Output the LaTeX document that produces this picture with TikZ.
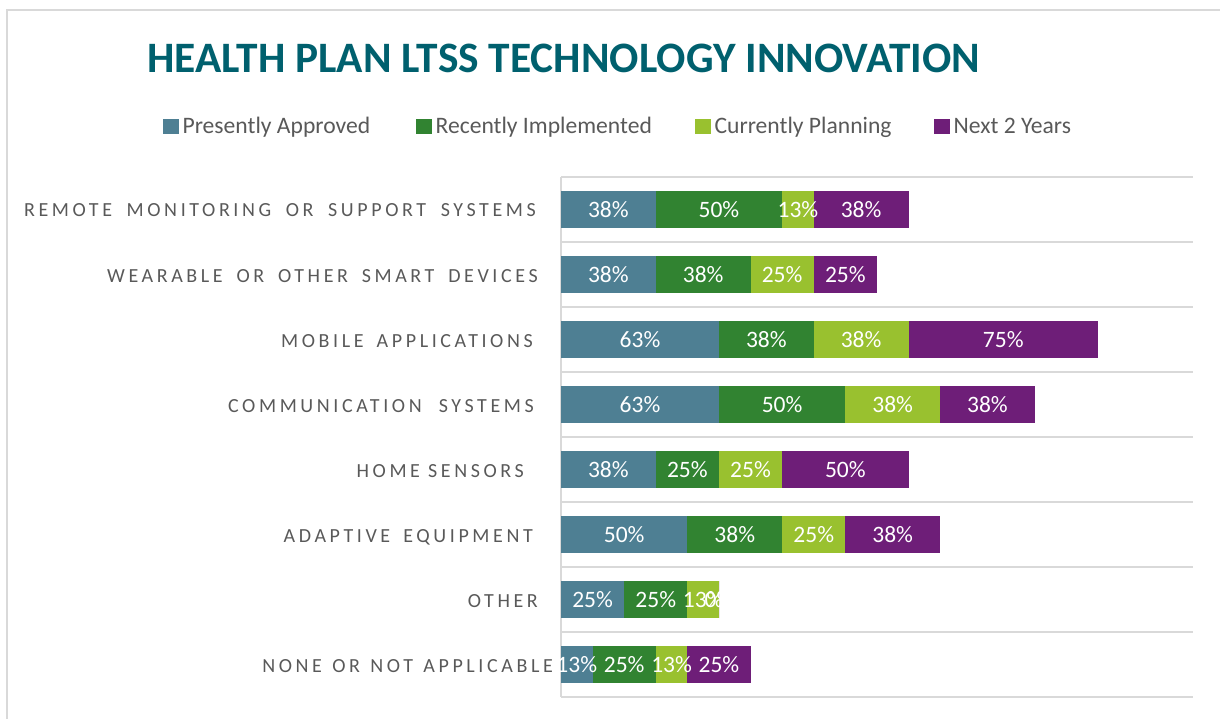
\documentclass[tikz,border=0pt]{standalone}
\usepackage{fontspec}
\setmainfont{Carlito}
\newfontfamily\catfont{Carlito}[LetterSpace = 18]
\usetikzlibrary{positioning}

\definecolor{bar1}{HTML}{4E7F93}
\definecolor{bar2}{HTML}{318331}
\definecolor{bar3}{HTML}{99C12F}
\definecolor{bar4}{HTML}{6E1E78}
\definecolor{titleteal}{HTML}{00606E}
\definecolor{labelgray}{HTML}{595959}
\definecolor{gridgray}{HTML}{D9D9D9}

\def\barrows{1/3/4/1/3, 2/3/3/2/2, 3/5/3/3/6, 4/5/4/3/3, 5/3/2/2/4, 6/4/3/2/3, 7/2/2/1/0, 8/1/2/1/2}

\begin{document}
\begin{tikzpicture}[x = 1pt, y = -1pt,
	seg/.style = {minimum height = 37pt, inner sep = 0, outer sep = 0},
	pct/.style = {text = white, font = \fontsize{23.5}{23.5}\selectfont, inner sep = 0},
	cat/.style = {text = labelgray, font = {\fontsize{20}{20}\catfont\spaceskip\dimexpr\fontdimen2\font + #1pt\relax}, anchor = base east, inner sep = 0},
	key/.style = {fill = #1, minimum width = 16pt, minimum height = 15pt, inner sep = 0, anchor = south west},
	keytext/.style = {text = labelgray, font = \fontsize{23.6}{23.6}\selectfont, anchor = base west, inner sep = 0},
	rule/.style = {draw = gridgray, line width = 2pt}]

	\useasboundingbox (0, 0) rectangle (1220, 719);
	\draw[rule] (7, 719) -- (7, 10) -- (1220, 10);

	\node[font = \fontsize{43.4}{43.4}\selectfont\bfseries, text = titleteal, anchor = base west, inner sep = 0] (title) at (147, 73) {HEALTH PLAN LTSS TECHNOLOGY INNOVATION};

	\foreach \s/\x/\txt in {1/163/Presently Approved, 2/416/Recently Implemented, 3/695/Currently Planning, 4/934/Next 2 Years} {
		\node[key = bar\s] (k\s) at (\x, 134) {};
		\node[keytext] (t\s) at ([xshift = 3pt] k\s.south east) {\txt};
	}

	\foreach \y in {0, ..., 8} {
		\draw[rule] (561, 177 + 65 * \y) -- (1193, 177 + 65 * \y);
	}
	\draw[rule] (561, 177) -- (561, 697);

	\foreach \r/\xe/\ws/\txt in {1/536/6.5/REMOTE MONITORING OR SUPPORT SYSTEMS, 2/538/5.7/WEARABLE OR OTHER SMART DEVICES, 3/533/5/MOBILE APPLICATIONS, 4/534/9/COMMUNICATION SYSTEMS, 5/524/0/HOME SENSORS, 6/533/5/ADAPTIVE EQUIPMENT, 7/538/0/OTHER, 8/553/2.3/NONE OR NOT APPLICABLE} {
		\node[cat = \ws] (cat\r) at (\xe, 152 + 65 * \r) {\txt};
	}

	\foreach \r/\a/\b/\c/\d in \barrows {
		\coordinate (b\r0) at (561, 144.5 + 65 * \r);
		\foreach \n [count = \s] in {\a, \b, \c, \d} {
			\pgfmathtruncatemacro\p{\s - 1}
			\node[seg, fill = bar\s, minimum width = \n * 31.59pt, right = 0pt of b\r\p] (b\r\s) {};
		}
	}

	\foreach \r/\a/\b/\c/\d in \barrows {
		\foreach \n [count = \s] in {\a, \b, \c, \d} {
			\pgfmathtruncatemacro\v{round(\n * 12.5)}
			\node[pct] (p\r\s) at (b\r\s) {\v\%};
		}
	}
\end{tikzpicture}
\end{document}
